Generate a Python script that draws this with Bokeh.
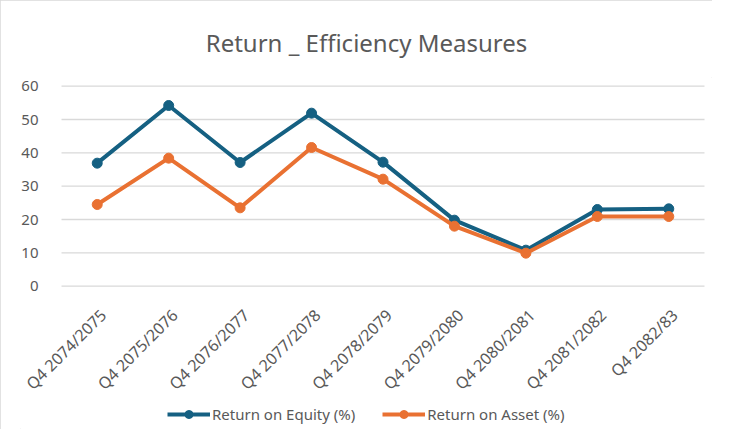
import math
from bokeh.plotting import figure
from bokeh.models import Legend, LegendItem, Range1d, Title
from bokeh.core.properties import value
from bokeh.embed import file_html
from bokeh.resources import INLINE

categories = ["Q4 2074/2075", "Q4 2075/2076", "Q4 2076/2077", "Q4 2077/2078",
              "Q4 2078/2079", "Q4 2079/2080", "Q4 2080/2081", "Q4 2081/2082", "Q4 2082/83"]
roe = [36.9, 54.2, 37.1, 51.9, 37.2, 19.8, 10.8, 23.0, 23.2]
roa = [24.5, 38.4, 23.5, 41.6, 32.1, 18.0, 9.9, 20.9, 20.9]
y_ticks = [0, 10, 20, 30, 40, 50, 60]

BLUE = "#156082"
ORANGE = "#E97132"
TXT = "#595959"
GRID = "#d9d9d9"
FONT = "Noto Sans"

n = len(categories)
xs = [i + 0.5 for i in range(n)]  # category centres

p = figure(x_range=Range1d(-0.574, 9.112), y_range=Range1d(-43.0, 62.6),
           width=712, height=429,
           min_border_left=20, min_border_right=0, min_border_top=77, min_border_bottom=0,
           output_backend="svg", toolbar_location=None)
p.styles = {"outline": "1px solid #d9d9d9", "outline-offset": "-1px"}
p.outline_line_color = None

t = Title(text="Return _ Efficiency Measures", align="center", text_font=FONT,
          text_font_size="24px", text_font_style="normal", text_color=TXT, standoff=38)
p.add_layout(t, "above")

# horizontal gridlines across the category band
p.segment(x0=0, x1=n, y0=y_ticks, y1=y_ticks, line_color=GRID, line_width=1.3)

r1 = p.line(xs, roe, line_color=BLUE, line_width=4)
s1 = p.scatter(xs, roe, size=10, fill_color=BLUE, line_color=BLUE)
r2 = p.line(xs, roa, line_color=ORANGE, line_width=4)
s2 = p.scatter(xs, roa, size=10, fill_color=ORANGE, line_color=ORANGE)

# category labels, rotated 45 degrees like the reference's axis labels
p.text(x=xs, y=0, text=categories, angle=math.pi / 4,
       text_align="right", text_baseline="middle", x_offset=6, y_offset=26,
       text_font=value(FONT), text_font_size="16px", text_color=TXT)

p.xaxis.visible = False
p.xgrid.grid_line_color = None
p.ygrid.grid_line_color = None
ax = p.yaxis[0]
ax.ticker = y_ticks
ax.fixed_location = -0.21
ax.axis_line_color = None
ax.major_tick_line_color = None
ax.minor_tick_line_color = None
ax.major_label_text_color = TXT
ax.major_label_text_font = FONT
ax.major_label_text_font_size = "15px"
ax.major_label_standoff = 2

legend = Legend(items=[LegendItem(label="Return on Equity (%)", renderers=[r1, s1]),
                       LegendItem(label="Return on Asset (%)", renderers=[r2, s2])],
                orientation="horizontal", location=(147, 5),
                label_text_font=FONT, label_text_font_size="15px", label_text_color=TXT,
                glyph_width=43, glyph_height=20, label_standoff=2, spacing=27,
                padding=0, margin=0, border_line_color=None, background_fill_alpha=0)
p.add_layout(legend, "center")

open("out.html", "w").write(file_html(p, INLINE))
